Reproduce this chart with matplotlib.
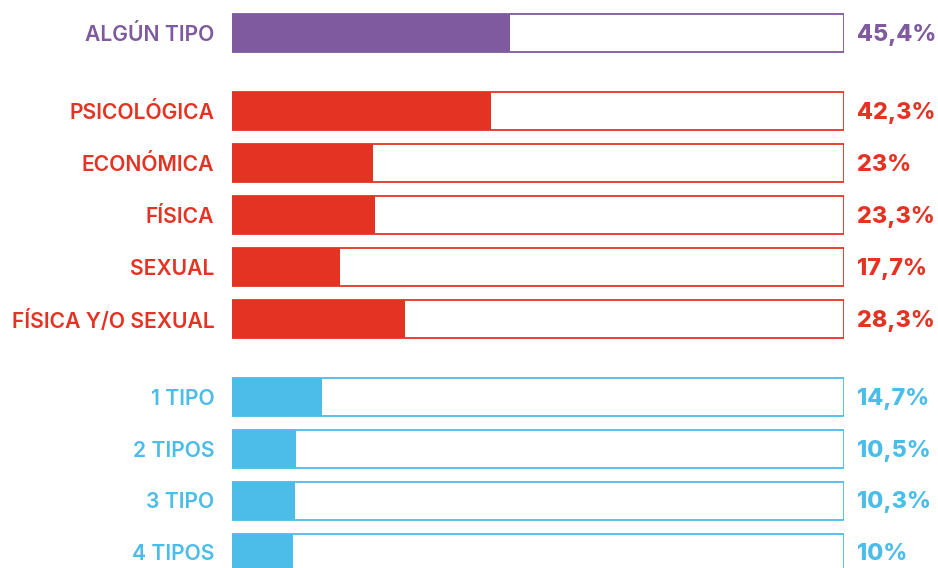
import matplotlib.pyplot as plt
from matplotlib.patches import Rectangle

PURPLE = "#7f5a9e"
RED = "#e53323"
BLUE = "#4bbde8"

labels = ["ALGÚN TIPO", "PSICOLÓGICA", "ECONÓMICA", "FÍSICA", "SEXUAL",
          "FÍSICA Y/O SEXUAL", "1 TIPO", "2 TIPOS", "3 TIPO", "4 TIPOS"]
values = [45.4, 42.3, 23, 23.3, 17.7, 28.3, 14.7, 10.5, 10.3, 10]
value_labels = ["45,4%", "42,3%", "23%", "23,3%", "17,7%", "28,3%",
                "14,7%", "10,5%", "10,3%", "10%"]
groups = [0, 1, 1, 1, 1, 1, 2, 2, 2, 2]
group_colors = [PURPLE, RED, BLUE]

# row positions, with an extra half row between groups
positions = []
pos = 0.0
for i, g in enumerate(groups):
    if i > 0 and g != groups[i - 1]:
        pos += 0.5
    positions.append(pos)
    pos += 1

fig = plt.figure(figsize=(9.38, 5.68), dpi=100)
ax = fig.add_axes([232 / 938, 0, (844 - 232) / 938, 1])
bar_h = 0.73

for y, v, g in zip(positions, values, groups):
    c = group_colors[g]
    ax.barh(y, v, height=bar_h, color=c, edgecolor="none", zorder=2)
    ax.add_patch(Rectangle((0, y - bar_h / 2), 100, bar_h, fill=False,
                           edgecolor=c, linewidth=1.3, zorder=3))

for y, lab, vl, g in zip(positions, labels, value_labels, groups):
    c = group_colors[g]
    ax.text(-2.9, y + 0.03, lab, ha="right", va="center", color=c, fontsize=15.2,
            family="Inter", fontweight="semibold")
    ax.text(102.2, y + 0.03, vl, ha="left", va="center", color=c, fontsize=16.8,
            family="Inter", fontweight="heavy")

ax.set_xlim(0, 100)
ax.set_ylim(10.29, -0.635)
ax.axis("off")

fig.savefig("out.png", dpi=100)
